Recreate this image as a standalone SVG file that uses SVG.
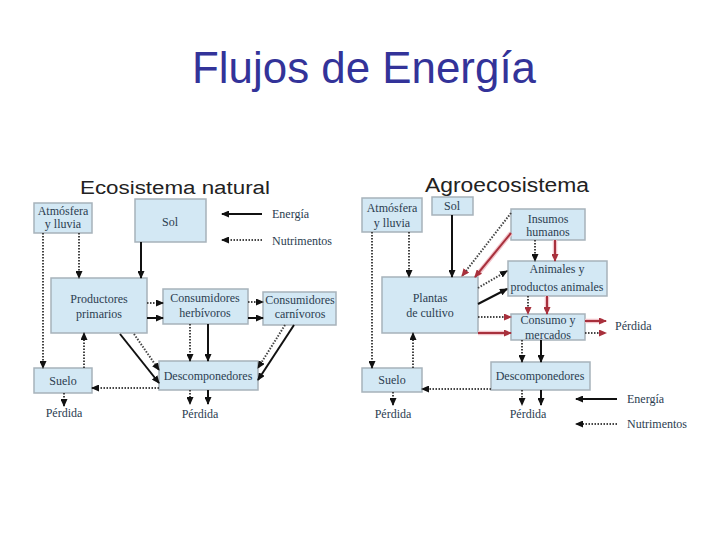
<svg xmlns="http://www.w3.org/2000/svg" width="728" height="546" viewBox="0 0 728 546">
<style>
.box{fill:#d3e8f4;stroke:#a7b2ba;stroke-width:1.5}
.t{font-family:"Liberation Serif","Times New Roman",serif;font-size:12px;fill:#2b3d50;text-anchor:middle}
.lg{font-family:"Liberation Serif","Times New Roman",serif;font-size:12px;fill:#2b3d50}
.h{font-family:"Liberation Sans",Arial,sans-serif;fill:#222}
.s{stroke:#111;stroke-width:2;fill:none}
.d{stroke:#444;stroke-width:2;stroke-dasharray:1.5 1.5;fill:none}
.rh{stroke:#f2c4cb;stroke-width:4.5;fill:none}
.r{stroke:#a8303c;stroke-width:2;fill:none}
</style>
<defs>
<marker id="ab" markerUnits="userSpaceOnUse" markerWidth="8" markerHeight="7" refX="7" refY="3.5" orient="auto"><path d="M0,0 L8,3.5 L0,7 z" fill="#111"/></marker>
<marker id="ar" markerUnits="userSpaceOnUse" markerWidth="8" markerHeight="7" refX="7" refY="3.5" orient="auto"><path d="M0,0 L8,3.5 L0,7 z" fill="#a8303c"/></marker>
</defs>
<rect width="728" height="546" fill="#fff"/>
<text x="192" y="83" font-family="Liberation Sans,Arial,sans-serif" font-size="44" fill="#333399" textLength="344" lengthAdjust="spacingAndGlyphs">Flujos de Energía</text>
<text class="h" x="80" y="194" font-size="18" textLength="190" lengthAdjust="spacingAndGlyphs">Ecosistema natural</text>
<text class="h" x="425" y="192" font-size="20" textLength="164" lengthAdjust="spacingAndGlyphs">Agroecosistema</text>

<g id="nat-atm"><rect class="box" x="34" y="203" width="58" height="30"/><text class="t" x="63" y="215">Atmósfera</text><text class="t" x="63" y="228">y lluvia</text></g>
<g id="nat-sol"><rect class="box" x="135" y="199" width="71" height="43"/><text class="t" x="170" y="226">Sol</text></g>
<g id="nat-prod"><rect class="box" x="51" y="278" width="96" height="55"/><text class="t" x="99" y="303">Productores</text><text class="t" x="99" y="318">primarios</text></g>
<g id="nat-herb"><rect class="box" x="163" y="289" width="85" height="35"/><text class="t" x="205" y="302">Consumidores</text><text class="t" x="205" y="317">herbívoros</text></g>
<g id="nat-carn"><rect class="box" x="263" y="292" width="73" height="33"/><text class="t" x="300" y="304">Consumidores</text><text class="t" x="300" y="318">carnívoros</text></g>
<g id="nat-desc"><rect class="box" x="159" y="361" width="99" height="29"/><text class="t" x="208" y="380">Descomponedores</text></g>
<g id="nat-suelo"><rect class="box" x="34" y="368" width="58" height="25"/><text class="t" x="63" y="385">Suelo</text></g>
<g id="nat-perd1"><text class="t" x="64" y="417">Pérdida</text></g>
<g id="nat-perd2"><text class="t" x="200" y="418">Pérdida</text></g>
<g id="nat-legend"><text class="lg" x="272" y="218">Energía</text><text class="lg" x="272" y="245">Nutrimentos</text></g>

<g id="agr-atm"><rect class="box" x="362" y="198" width="60" height="34"/><text class="t" x="392" y="212">Atmósfera</text><text class="t" x="392" y="227">y lluvia</text></g>
<g id="agr-sol"><rect class="box" x="432" y="197" width="41" height="18"/><text class="t" x="452" y="210">Sol</text></g>
<g id="agr-ins"><rect class="box" x="511" y="209" width="74" height="31"/><text class="t" x="548" y="223">Insumos</text><text class="t" x="548" y="236">humanos</text></g>
<g id="agr-anim"><rect class="box" x="508" y="261" width="99" height="35"/><text class="t" x="557" y="273">Animales y</text><text class="t" x="557" y="291">productos animales</text></g>
<g id="agr-plant"><rect class="box" x="382" y="277" width="96" height="56"/><text class="t" x="430" y="302">Plantas</text><text class="t" x="430" y="317">de cultivo</text></g>
<g id="agr-cons"><rect class="box" x="511" y="314" width="74" height="26"/><text class="t" x="548" y="324">Consumo y</text><text class="t" x="548" y="339">mercados</text></g>
<g id="agr-desc"><rect class="box" x="491" y="362" width="99" height="28"/><text class="t" x="540" y="380">Descomponedores</text></g>
<g id="agr-suelo"><rect class="box" x="362" y="368" width="60" height="24"/><text class="t" x="392" y="384">Suelo</text></g>
<g id="agr-perd1"><text class="t" x="393" y="418">Pérdida</text></g>
<g id="agr-perd2"><text class="t" x="528" y="418">Pérdida</text></g>
<g id="agr-perd3"><text class="lg" x="615" y="330">Pérdida</text></g>
<g id="agr-legend"><text class="lg" x="627" y="403">Energía</text><text class="lg" x="627" y="428">Nutrimentos</text></g>

<g id="connectors">
<line class="s" x1="141" y1="242" x2="141" y2="278" marker-end="url(#ab)"/>
<line class="d" x1="79" y1="233" x2="79" y2="278" marker-end="url(#ab)"/>
<line class="d" x1="43" y1="233" x2="43" y2="368" marker-end="url(#ab)"/>
<line class="d" x1="84" y1="368" x2="84" y2="333" marker-end="url(#ab)"/>
<line class="d" x1="147" y1="303" x2="163" y2="303" marker-end="url(#ab)"/>
<line class="s" x1="147" y1="318" x2="163" y2="318" marker-end="url(#ab)"/>
<line class="d" x1="248" y1="302" x2="263" y2="302" marker-end="url(#ab)"/>
<line class="s" x1="248" y1="318" x2="263" y2="318" marker-end="url(#ab)"/>
<line class="d" x1="190" y1="324" x2="190" y2="361" marker-end="url(#ab)"/>
<line class="s" x1="208" y1="324" x2="208" y2="361" marker-end="url(#ab)"/>
<line class="d" x1="285" y1="325" x2="258" y2="368" marker-end="url(#ab)"/>
<line class="s" x1="294" y1="325" x2="258" y2="380" marker-end="url(#ab)"/>
<line class="s" x1="120" y1="334" x2="159" y2="383" marker-end="url(#ab)"/>
<line class="d" x1="134" y1="334" x2="159" y2="370" marker-end="url(#ab)"/>
<line class="d" x1="159" y1="388" x2="92" y2="388" marker-end="url(#ab)"/>
<line class="d" x1="64" y1="393" x2="64" y2="406" marker-end="url(#ab)"/>
<line class="d" x1="190" y1="390" x2="190" y2="404" marker-end="url(#ab)"/>
<line class="s" x1="208" y1="390" x2="208" y2="404" marker-end="url(#ab)"/>
<line class="s" x1="262" y1="214" x2="222" y2="214" marker-end="url(#ab)"/>
<line class="d" x1="262" y1="240" x2="222" y2="240" marker-end="url(#ab)"/>

<line class="s" x1="452" y1="215" x2="452" y2="277" marker-end="url(#ab)"/>
<line class="d" x1="409" y1="232" x2="409" y2="277" marker-end="url(#ab)"/>
<line class="d" x1="372" y1="232" x2="372" y2="368" marker-end="url(#ab)"/>
<line class="d" x1="413" y1="368" x2="413" y2="333" marker-end="url(#ab)"/>
<line class="d" x1="511" y1="213" x2="462" y2="276" marker-end="url(#ar)"/>
<line class="rh" x1="511" y1="233" x2="477" y2="275"/>
<line class="r" x1="511" y1="233" x2="475" y2="277" marker-end="url(#ar)"/>
<line class="d" x1="535" y1="240" x2="535" y2="261" marker-end="url(#ab)"/>
<line class="rh" x1="555" y1="240" x2="555" y2="258"/>
<line class="r" x1="555" y1="240" x2="555" y2="261" marker-end="url(#ar)"/>
<line class="d" x1="478" y1="288" x2="507" y2="271" marker-end="url(#ab)"/>
<line class="s" x1="478" y1="304" x2="507" y2="289" marker-end="url(#ab)"/>
<line class="d" x1="528" y1="296" x2="528" y2="314" marker-end="url(#ar)"/>
<line class="rh" x1="547" y1="296" x2="547" y2="311"/>
<line class="r" x1="547" y1="296" x2="547" y2="314" marker-end="url(#ar)"/>
<line class="d" x1="478" y1="317" x2="511" y2="317" marker-end="url(#ar)"/>
<line class="rh" x1="478" y1="333" x2="508" y2="333"/>
<line class="r" x1="478" y1="333" x2="511" y2="333" marker-end="url(#ar)"/>
<line class="rh" x1="585" y1="321" x2="603" y2="321"/>
<line class="r" x1="585" y1="321" x2="606" y2="321" marker-end="url(#ar)"/>
<line class="d" x1="585" y1="333" x2="606" y2="333" marker-end="url(#ar)"/>
<line class="d" x1="522" y1="340" x2="522" y2="362" marker-end="url(#ab)"/>
<line class="s" x1="541" y1="340" x2="541" y2="362" marker-end="url(#ab)"/>
<line class="d" x1="491" y1="389" x2="422" y2="389" marker-end="url(#ab)"/>
<line class="d" x1="393" y1="392" x2="393" y2="405" marker-end="url(#ab)"/>
<line class="d" x1="522" y1="390" x2="522" y2="405" marker-end="url(#ab)"/>
<line class="s" x1="541" y1="390" x2="541" y2="405" marker-end="url(#ab)"/>
<line class="s" x1="617" y1="399" x2="576" y2="399" marker-end="url(#ab)"/>
<line class="d" x1="617" y1="424" x2="576" y2="424" marker-end="url(#ab)"/>
</g>
</svg>
